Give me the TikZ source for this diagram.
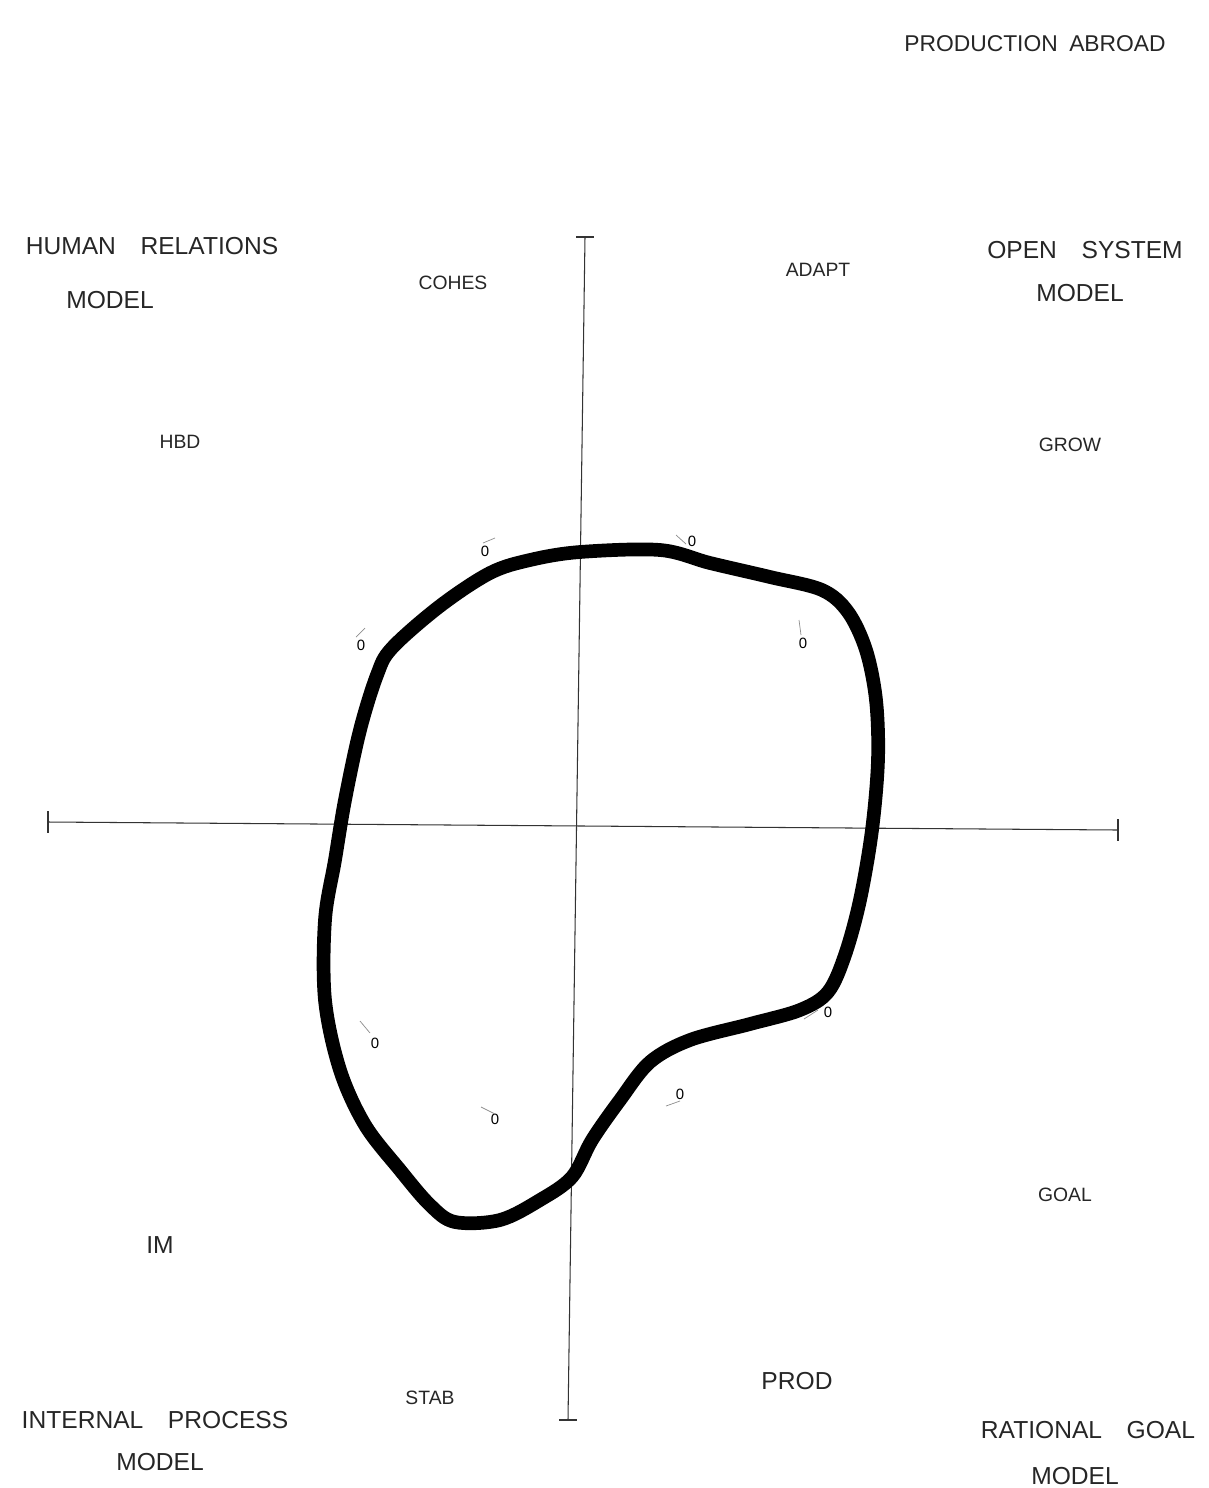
\documentclass[tikz,border=0pt]{standalone}
\usepackage{fontspec}
\setmainfont{Liberation Sans}
\begin{document}
\begin{tikzpicture}[x=0.02cm,y=-0.02cm,
  lbl/.style={font=\fontsize{14}{16}\selectfont, text=black!85, inner sep=1pt},
  slbl/.style={font=\fontsize{11}{13}\selectfont, text=black!85, inner sep=1pt},
  zero/.style={font=\fontsize{8.5}{9}\selectfont, inner sep=0.5pt},
  tickmark/.style={black!45, line width=0.4pt},
  axis/.style={black!80, line width=0.6pt}]
\useasboundingbox (0,0) rectangle (1209,1488);
% axes
\coordinate (vt) at (585,237);
\coordinate (vb) at (568,1420);
\coordinate (hl) at (48,822);
\coordinate (hr) at (1118,830);
\draw[axis] (vt) -- (vb);
\draw[axis] (hl) -- (hr);
\draw[axis] ([xshift=-5]vt) -- ([xshift=5]vt);
\draw[axis] ([xshift=-5]vb) -- ([xshift=5]vb);
\draw[axis] ([yshift=-6]hl) -- ([yshift=6]hl);
\draw[axis] ([yshift=-6]hr) -- ([yshift=6]hr);
% profile curve
\draw[line width=7.8pt, line join=round] plot[smooth cycle, tension=0.55] coordinates {
 (580,552) (660,550) (710,563) (770,577) (822,590) (848,612) (866,650) (876,700) (878,760)
 (872,830) (860,900) (845,955) (828,992) (800,1010) (750,1024) (690,1040) (650,1062)
 (620,1100) (592,1140) (572,1177) (540,1200) (500,1220) (455,1222) (430,1205) (400,1170)
 (365,1125) (340,1070) (325,1000) (325,920) (335,860) (345,800) (360,730) (377,675)
 (392,648) (440,606) (490,573) (530,560)};
% small marks
\node[zero] (z1) at (485,551) {0};
\draw[tickmark] ([shift={(-2,-8)}]z1.center) -- ([shift={(10,-13)}]z1.center);
\node[zero] (z2) at (361,645) {0};
\draw[tickmark] ([shift={(-5,-8)}]z2.center) -- ([shift={(4,-17)}]z2.center);
\node[zero] (z3) at (692,541) {0};
\draw[tickmark] ([shift={(-16,-6)}]z3.center) -- ([shift={(-6,3)}]z3.center);
\node[zero] (z4) at (803,643) {0};
\draw[tickmark] ([shift={(-2,-8)}]z4.center) -- ([shift={(-4,-23)}]z4.center);
\node[zero] (z5) at (828,1012) {0};
\draw[tickmark] ([shift={(-10,-2)}]z5.center) -- ([shift={(-24,7)}]z5.center);
\node[zero] (z6) at (680,1094) {0};
\draw[tickmark] ([shift={(-14,12)}]z6.center) -- ([shift={(0,7)}]z6.center);
\node[zero] (z7) at (375,1043) {0};
\draw[tickmark] ([shift={(-15,-22)}]z7.center) -- ([shift={(-5,-10)}]z7.center);
\node[zero] (z8) at (495,1119) {0};
\draw[tickmark] ([shift={(-14,-12)}]z8.center) -- ([shift={(0,-5)}]z8.center);
% labels
\node[lbl, font=\fontsize{13}{15}\selectfont] (title) at (1035,44) {PRODUCTION\enspace ABROAD};
\node[lbl] (hr1) at (152,246) {HUMAN\quad RELATIONS};
\node[lbl] (hr2) at (110,300) {MODEL};
\node[lbl] (os1) at (1085,250) {OPEN\quad SYSTEM};
\node[lbl] (os2) at (1080,293) {MODEL};
\node[lbl] (ip1) at (155,1420) {INTERNAL\quad PROCESS};
\node[lbl] (ip2) at (160,1462) {MODEL};
\node[lbl] (rg1) at (1088,1430) {RATIONAL\quad GOAL};
\node[lbl] (rg2) at (1075,1476) {MODEL};
\node[slbl] (cohes) at (453,283) {COHES};
\node[slbl] (adapt) at (818,270) {ADAPT};
\node[slbl] (hbd) at (180,442) {HBD};
\node[slbl] (grow) at (1070,445) {GROW};
\node[slbl] (goal) at (1065,1195) {GOAL};
\node[lbl] (im) at (160,1245) {IM};
\node[slbl] (stab) at (430,1398) {STAB};
\node[lbl] (prod) at (797,1381) {PROD};
\end{tikzpicture}
\end{document}
